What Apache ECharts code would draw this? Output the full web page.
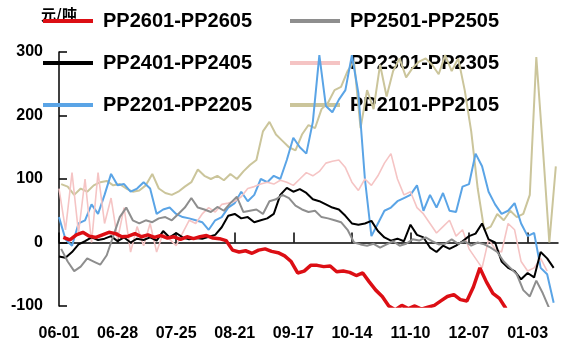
<!DOCTYPE html>
<html><head><meta charset="utf-8">
<script src="https://cdn.jsdelivr.net/npm/echarts@6/dist/echarts.min.js"></script>
<style>html,body{margin:0;padding:0;background:#fff}#c{width:563px;height:349px}</style>
</head><body><div id="c"></div>
<script>
// x categories: daily MM-DD from 06-01, 231 days
const START_DATE = '2023-06-01';
const DAY_COUNT = 231;
const STEP = 3; // values below are read every 3 days

const yTicks = { min: -100, max: 300, interval: 100 };

const names = ['PP2601-PP2605','PP2501-PP2505','PP2401-PP2405','PP2301-PP2305','PP2201-PP2205','PP2101-PP2105'];

// PP2601-PP2605 (starts day 2)
const red = [8,4,12,16,10,8,12,16,14,9,10,14,9,12,8,11,7,9,5,9,6,9,11,7,6,3,-12,-15,-13,-17,-12,-10,-14,-16,-21,-30,-48,-45,-36,-36,-38,-37,-46,-45,-47,-52,-48,-62,-75,-85,-100,-106,-99,-104,-100,-105,-102,-99,-92,-85,-82,-90,-92,-70,-40,-62,-80,-88,-104];
const redStart = 2;

// PP2501-PP2505 (starts day 1)
const gray = [-10,-30,-45,-38,-25,-30,-35,-20,10,40,55,35,30,35,32,38,40,35,45,55,70,55,52,48,56,50,62,72,48,50,52,45,65,68,75,70,58,52,48,50,40,38,35,32,20,0,-3,-5,-2,-8,-3,2,-5,-2,5,3,8,2,-3,-2,5,-2,2,-5,0,-3,-8,-15,-30,-40,-50,-75,-85,-60,-80,-104];
const grayStart = 1;

// PP2401-PP2405 (starts day 0)
const black = [-22,-24,-15,-3,2,8,4,6,10,2,8,0,6,4,8,3,18,8,15,8,5,7,6,9,12,24,42,45,38,40,32,35,38,45,75,86,80,84,78,68,65,60,55,52,42,30,28,30,34,18,8,3,6,2,28,12,8,-8,-15,-5,-10,-5,2,10,14,30,5,0,-30,-40,-45,-58,-48,-55,-15,-25,-40];
const blackStart = 0;

// PP2301-PP2305 (starts day 0)
const pink = [85,20,110,15,100,0,110,30,70,5,55,-15,25,-5,30,-15,15,5,-5,15,35,30,45,55,48,60,62,65,72,85,88,92,95,92,98,95,90,100,110,105,112,125,128,130,118,95,82,100,90,105,125,140,100,75,80,55,45,30,15,25,35,10,20,-10,-25,-40,5,-10,-15,30,20,-30,-45,-40,-25,-45];
const pinkStart = 0;

// PP2201-PP2205 (starts day 0)
const blue = [40,5,-5,30,35,60,45,75,108,90,92,80,85,95,85,45,52,55,45,40,38,35,32,20,35,40,55,62,80,65,75,100,95,105,100,130,165,150,140,190,295,215,205,225,240,295,235,100,10,30,50,55,65,70,75,90,50,75,55,78,50,48,88,92,140,120,80,60,45,50,62,30,10,15,-40,-50,-95];
const blueStart = 0;

// PP2101-PP2105 (starts day 1)
const khaki = [92,88,75,85,80,90,95,97,90,92,85,80,82,90,108,85,78,75,80,88,95,115,105,100,105,98,108,100,112,122,130,175,190,170,160,150,145,170,185,180,210,220,240,245,270,285,180,240,210,280,230,270,290,260,275,285,290,280,265,295,270,290,240,175,85,20,25,45,35,50,40,45,75,292,150,0,120];
const khakiStart = 1;

const colors = ['#dc0e14','#8e8e8e','#000000','#f5c4c4','#5aa4e6','#cbc59b'];
const widths = [3.5, 2, 2, 1.6, 2, 2];

function buildCats(){
  const out = [];
  const d0 = new Date(START_DATE + 'T00:00:00Z');
  for (let i = 0; i < DAY_COUNT; i++) {
    const d = new Date(d0.getTime() + i * 86400000);
    const mm = String(d.getUTCMonth() + 1).padStart(2, '0');
    const dd = String(d.getUTCDate()).padStart(2, '0');
    out.push(mm + '-' + dd);
  }
  return out;
}
const cats = buildCats();
function pts(start, vals){ return vals.map((v, k) => [start + STEP * k, v]); }

const seriesVals = [
  [red, redStart], [gray, grayStart], [black, blackStart],
  [pink, pinkStart], [blue, blueStart], [khaki, khakiStart]
];

const series = seriesVals.map((sv, idx) => ({
  name: names[idx], type: 'line', data: pts(sv[1], sv[0]),
  showSymbol: false, symbol: 'none', smooth: false,
  z: 10 - idx,
  lineStyle: { color: colors[idx], width: widths[idx] },
  itemStyle: { color: colors[idx] }
})).reverse();

const labelFont = { fontSize: 16, fontWeight: 'bold', color: '#000', fontFamily: 'Liberation Sans' };
const legendText = { fontSize: 20, fontWeight: 'bold', color: '#000', fontFamily: 'Liberation Sans', lineHeight: 22, padding: [0,0,0,5] };

const chart = echarts.init(document.getElementById('c'));
chart.setOption({
  animation: false,
  backgroundColor: '#fff',
  grid: { left: 59, right: 5, top: 52, bottom: 43, containLabel: false },
  legend: [
    { orient: 'vertical', left: 43, top: 10, padding: 0, itemWidth: 50, itemHeight: 4, itemGap: 20, icon: 'rect',
      data: [names[0], names[2], names[4]], textStyle: legendText },
    { orient: 'vertical', left: 290, top: 10, padding: 0, itemWidth: 50, itemHeight: 4, itemGap: 20, icon: 'rect',
      data: [names[1], names[3], names[5]], textStyle: legendText }
  ],
  xAxis: [
    { type: 'category', data: cats, boundaryGap: false, position: 'bottom',
      axisLine: { show: false, onZero: false }, axisTick: { show: false },
      axisLabel: Object.assign({ interval: 26, margin: 20 }, labelFont),
      splitLine: { show: false } },
    { type: 'category', data: cats, boundaryGap: false, position: 'bottom',
      axisLine: { show: true, onZero: true, lineStyle: { color: '#000', width: 1.5 } },
      axisTick: { show: true, inside: true, length: 10, interval: 26, lineStyle: { color: '#000', width: 1.5 } },
      axisLabel: { show: false }, splitLine: { show: false } }
  ],
  yAxis: {
    type: 'value', min: yTicks.min, max: yTicks.max, interval: yTicks.interval,
    name: '元/吨', nameLocation: 'end', nameGap: 30,
    nameTextStyle: { fontSize: 15, color: '#000', fontFamily: 'Noto Sans CJK SC', fontWeight: 'bold' },
    axisLine: { show: true, onZero: false, lineStyle: { color: '#000', width: 1.5 } },
    axisTick: { show: true, inside: true, length: 8, lineStyle: { color: '#000', width: 1.5 } },
    axisLabel: Object.assign({ margin: 16 }, labelFont),
    splitLine: { show: false }
  },
  series: series
});
</script></body></html>
